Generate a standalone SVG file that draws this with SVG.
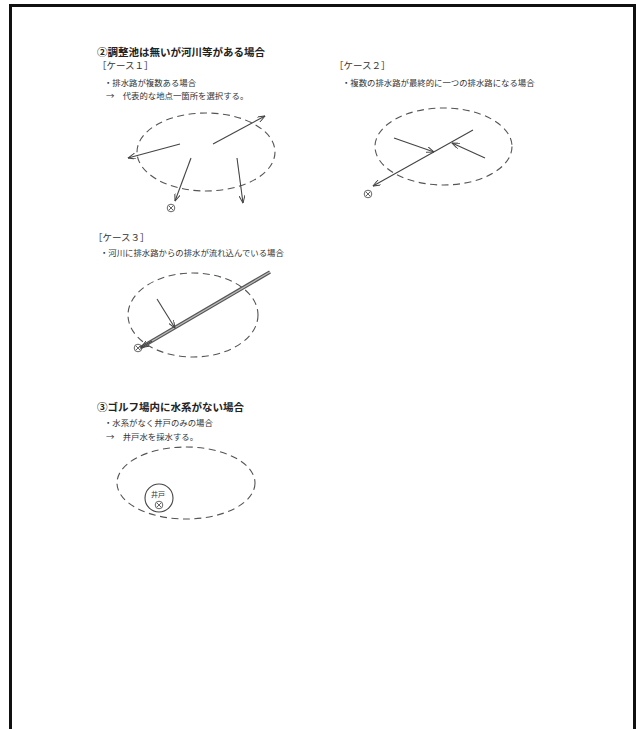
<svg xmlns="http://www.w3.org/2000/svg" width="637" height="729" viewBox="0 0 637 729">
<style>
.h{font-family:"Noto Sans CJK JP","Noto Sans",sans-serif;font-weight:bold;font-size:10.5px;fill:#222}
.c{font-family:"Noto Sans CJK JP",serif;font-size:9.5px;fill:#333}
.t{font-family:"Noto Sans CJK JP",sans-serif;font-size:8.4px;fill:#333}
.el{fill:none;stroke:#555;stroke-width:1.1;stroke-dasharray:7 4.5}
.ln{stroke:#444;stroke-width:1.1;fill:none}
.pt{fill:none;stroke:#555;stroke-width:0.9}
</style>
<defs>
<marker id="ah" viewBox="0 0 8 6" refX="7.5" refY="3" markerWidth="8" markerHeight="6" markerUnits="userSpaceOnUse" orient="auto">
<path d="M0,0 L7.5,3 L0,6" fill="none" stroke="#444" stroke-width="1"/>
</marker>
<symbol id="pt" viewBox="-5 -5 10 10" overflow="visible">
<circle r="3.8" class="pt"/><path d="M-2.2,-2.2 L2.2,2.2 M-2.2,2.2 L2.2,-2.2" class="pt"/>
</symbol>
</defs>
<rect width="637" height="729" fill="#fff"/>
<path d="M10.5,729 V5.5 H634.5 V729" fill="none" stroke="#111" stroke-width="3"/>

<g id="section2-title">
<text x="97" y="56" class="h">②調整池は無いが河川等がある場合</text>
</g>

<g id="case1">
<text x="97" y="69" class="c">［ケース１］</text>
<text x="104" y="86" class="t">・排水路が複数ある場合</text>
<text x="106" y="99" class="t">→　代表的な地点一箇所を選択する。</text>
<ellipse cx="206" cy="152" rx="69" ry="39" class="el"/>
<use href="#pt" x="166" y="203" width="10" height="10"/>
</g>

<g id="case2">
<text x="334" y="69" class="c">［ケース２］</text>
<text x="342" y="86" class="t">・複数の排水路が最終的に一つの排水路になる場合</text>
<ellipse cx="443.5" cy="146.5" rx="68.5" ry="38.5" class="el"/>
<use href="#pt" x="363" y="189" width="10" height="10"/>
</g>

<g id="case3">
<text x="93" y="241" class="c">［ケース３］</text>
<text x="100" y="256" class="t">・河川に排水路からの排水が流れ込んでいる場合</text>
<ellipse cx="193" cy="315" rx="65" ry="42" class="el"/>
<use href="#pt" x="133" y="343" width="10" height="10"/>
</g>

<g id="section3-title">
<text x="97" y="411" class="h">③ゴルフ場内に水系がない場合</text>
</g>

<g id="well-case">
<text x="104" y="426" class="t">・水系がなく井戸のみの場合</text>
<text x="106" y="440" class="t">→　井戸水を採水する。</text>
<ellipse cx="186" cy="483" rx="69" ry="36" class="el"/>
<circle cx="159" cy="498" r="14" fill="none" stroke="#444" stroke-width="1.1"/>
<text x="151" y="497" class="t" style="font-size:7px">井戸</text>
<use href="#pt" x="154" y="500" width="10" height="10"/>
</g>

<g id="connectors">
<line x1="180" y1="144" x2="128" y2="158" class="ln" marker-end="url(#ah)"/>
<line x1="213" y1="144" x2="265" y2="116" class="ln" marker-end="url(#ah)"/>
<line x1="191" y1="158" x2="175" y2="201" class="ln" marker-end="url(#ah)"/>
<line x1="237" y1="158" x2="243" y2="203" class="ln" marker-end="url(#ah)"/>

<line x1="473" y1="130" x2="373" y2="186" class="ln" marker-end="url(#ah)"/>
<line x1="394" y1="138" x2="434" y2="152" class="ln" marker-end="url(#ah)"/>
<line x1="485" y1="158" x2="452" y2="143" class="ln" marker-end="url(#ah)"/>

<line x1="270" y1="272" x2="140" y2="348" stroke="#555" stroke-width="3.6"/>
<line x1="270" y1="272" x2="140" y2="348" stroke="#bbb" stroke-width="1.3"/>
<line x1="152" y1="341" x2="141" y2="347.5" class="ln" marker-end="url(#ah)"/>
<line x1="157" y1="299" x2="175" y2="328" class="ln" marker-end="url(#ah)"/>
</g>
</svg>
